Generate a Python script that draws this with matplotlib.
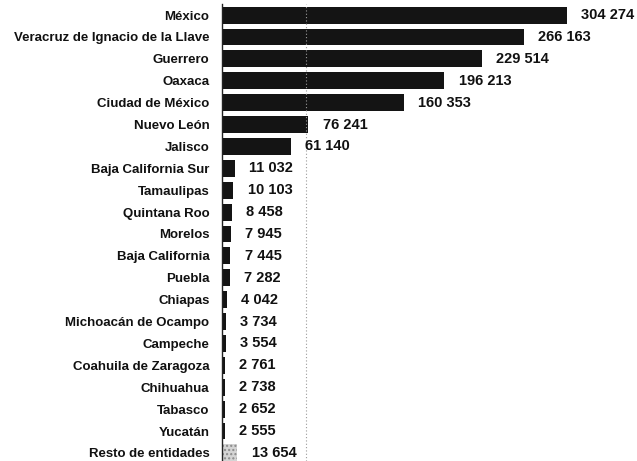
import matplotlib
matplotlib.use("Agg")
from matplotlib import pyplot as plt

plt.rcParams['font.family'] = ['Liberation Sans', 'DejaVu Sans']

# datos
entidades = [
    "México", "Veracruz de Ignacio de la Llave", "Guerrero", "Oaxaca",
    "Ciudad de México", "Nuevo León", "Jalisco", "Baja California Sur",
    "Tamaulipas", "Quintana Roo", "Morelos", "Baja California", "Puebla",
    "Chiapas", "Michoacán de Ocampo", "Campeche", "Coahuila de Zaragoza",
    "Chihuahua", "Tabasco", "Yucatán", "Resto de entidades",
]
valores = [
    304274, 266163, 229514, 196213, 160353, 76241, 61140, 11032,
    10103, 8458, 7945, 7445, 7282, 4042, 3734, 3554, 2761,
    2738, 2652, 2555, 13654,
]

fig = plt.figure(figsize=(6.37, 4.61), dpi=100)
ax = fig.add_axes([0.3485, 0.0, 0.6515, 0.991])

pos = list(range(len(entidades)))
colores = ['#141414'] * (len(valores) - 1) + ['#d4d4d4']
barras = ax.barh(pos, valores, height=0.77, color=colores, edgecolor='none')
# ultima barra con trama clara
barras[-1].set_hatch('....')
barras[-1].set_edgecolor('#8a8a8a')
barras[-1].set_linewidth(0)

for p, v in zip(pos, valores):
    txt = f"{v:,}".replace(",", " ")
    ax.text(v + 12500, p, txt, va='center', ha='left',
            fontsize=10.5, fontweight='bold', color='#111111')

# linea punteada del escaneo
ax.axvline(74000, color='#9a9a9a', linestyle=(0, (1, 2)), linewidth=0.8)

ax.set_yticks(pos)
ax.set_yticklabels(entidades, fontsize=9.5, fontweight='bold', color='#111111')
ax.tick_params(axis='y', length=0, pad=9)
ax.set_xticks([])
ax.set_xlim(0, 366000)
ax.set_ylim(20.37, -0.5)

for s in ['top', 'right', 'bottom']:
    ax.spines[s].set_visible(False)
ax.spines['left'].set_color('#222222')
ax.spines['left'].set_linewidth(1.0)

fig.savefig("out.png", dpi=100)
